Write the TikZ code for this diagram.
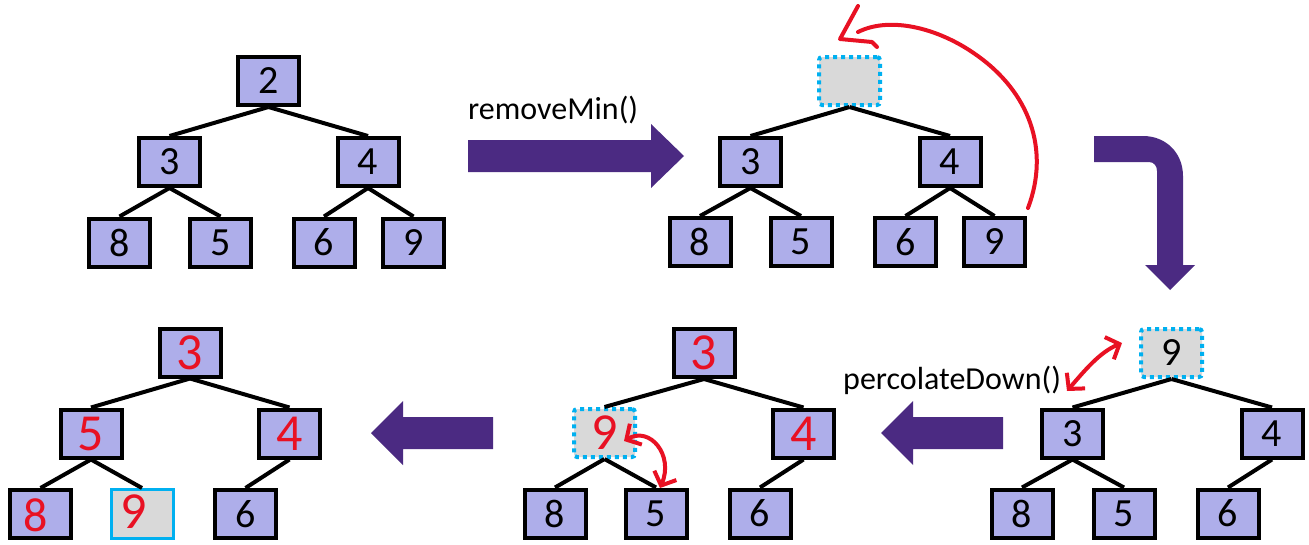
\documentclass[tikz,border=0pt]{standalone}
\usepackage{fontspec}
\setmainfont{Carlito}
\usetikzlibrary{arrows.meta}

\definecolor{heapfill}{RGB}{174,174,234}
\definecolor{arrowpurple}{RGB}{75,42,130}
\definecolor{holegray}{RGB}{217,217,217}
\definecolor{holeblue}{RGB}{0,176,240}
\definecolor{inkred}{RGB}{232,17,35}

\tikzset{
  heapnode/.style={draw=black, line width=4pt, fill=heapfill,
    minimum width=61pt, minimum height=48pt, inner sep=0pt,
    font=\fontsize{40}{44}\selectfont},
  holenode/.style={draw=holeblue, line width=4pt, dash pattern=on 4pt off 4pt,
    fill=holegray, rounded corners=3pt,
    minimum width=61pt, minimum height=48pt, inner sep=0pt,
    font=\fontsize{40}{44}\selectfont},
  movednode/.style={draw=holeblue, line width=3pt, fill=holegray,
    minimum width=62pt, minimum height=49pt, inner sep=0pt},
  inked/.style={text=inkred, font=\fontsize{52}{56}\selectfont},
  link/.style={line width=4pt},
  inkline/.style={draw=inkred, line width=4pt, line cap=round, line join=round},
  barbs/.style={{Straight Barb[length=11pt,width=24pt]}-{Straight Barb[length=11pt,width=24pt]}},
  opname/.style={font=\fontsize{32}{38}\selectfont, inner sep=0pt, anchor=base west},
  bigarrow/.style={fill=arrowpurple}
}

\begin{document}
\begin{tikzpicture}[x=1pt, y=-1pt]
\useasboundingbox (0,0) rectangle (1309,544);

% ---------- heap before removeMin ----------
\node[heapnode] (t1r) at (268.5,81) {2};
\node[heapnode] (t1a) at (169.5,162) {3};
\node[heapnode] (t1b) at (368,162) {4};
\node[heapnode] (t1c) at (119.5,242.5) {8};
\node[heapnode] (t1d) at (220.5,242.5) {5};
\node[heapnode] (t1e) at (324,242.5) {6};
\node[heapnode] (t1f) at (413.5,242.5) {9};
\draw[link] (t1r.south) -- (t1a.north);
\draw[link] (t1r.south) -- (t1b.north);
\draw[link] (t1a.south) -- (t1c.north);
\draw[link] (t1a.south) -- (t1d.north);
\draw[link] (t1b.south) -- (t1e.north);
\draw[link] (t1b.south) -- (t1f.north);

% ---------- removeMin() arrow ----------
\node[opname] (op1) at (468,119) {removeMin()};
\fill[bigarrow] (468,140) -- (651,140) -- (651,124) -- (684,156) -- (651,188) -- (651,172) -- (468,172) -- cycle;

% ---------- heap with empty root ----------
\node[holenode] (t2r) at (849.5,81) {};
\node[heapnode] (t2a) at (750.5,162) {3};
\node[heapnode] (t2b) at (950,162) {4};
\node[heapnode] (t2c) at (700,242) {8};
\node[heapnode] (t2d) at (801,242) {5};
\node[heapnode] (t2e) at (905.5,242) {6};
\node[heapnode] (t2f) at (994.5,242) {9};
\draw[link] (t2r.south) -- (t2a.north);
\draw[link] (t2r.south) -- (t2b.north);
\draw[link] (t2a.south) -- (t2c.north);
\draw[link] (t2a.south) -- (t2d.north);
\draw[link] (t2b.south) -- (t2e.north);
\draw[link] (t2b.south) -- (t2f.north);

% last leaf moved up to the root
\coordinate (lift0) at (1028,208);
\coordinate (lift1) at (858,32);
\draw[inkline] (lift0) .. controls (1050,150) and (1030,92) .. (975,54)
  .. controls (938,28) and (890,16) .. (lift1);
\draw[inkline] (858,6) -- (840,39) -- (872,42) -- (877,47);

% ---------- bent arrow ----------
\fill[bigarrow] (1094,136) -- (1143,136) .. controls (1166,136) and (1183,153) .. (1183,176)
  -- (1183,265) -- (1195,265) -- (1170,290) -- (1145,265) -- (1157,265) -- (1157,171)
  .. controls (1157,166) and (1154,162) .. (1149,162) -- (1094,162) -- cycle;

% ---------- heap with 9 at the root ----------
\node[holenode] (t3r) at (1171.5,353) {9};
\node[heapnode] (t3a) at (1072.5,433.5) {3};
\node[heapnode] (t3b) at (1272,433.5) {4};
\node[heapnode] (t3c) at (1022,513.5) {8};
\node[heapnode] (t3d) at (1124,513.5) {5};
\node[heapnode] (t3e) at (1228,513.5) {6};
\draw[link] (t3r.south) -- (t3a.north);
\draw[link] (t3r.south) -- (t3b.north);
\draw[link] (t3a.south) -- (t3c.north);
\draw[link] (t3a.south) -- (t3d.north);
\draw[link] (t3b.south) -- (t3e.north);

\node[opname] (op2) at (843,389) {percolateDown()};
\coordinate (swap0) at (1067,391);
\coordinate (swap1) at (1122,343);
\draw[inkline, barbs] (swap0) .. controls (1085,370) and (1100,352) .. (swap1);

% ---------- arrow to the left ----------
\fill[bigarrow] (1003,417) -- (913,417) -- (913,401) -- (881,433) -- (913,465) -- (913,449) -- (1003,449) -- cycle;

% ---------- heap after first swap ----------
\node[heapnode, inked] (t4r) at (704,353) {3};
\node[holenode, inked] (t4a) at (604.5,433) {9};
\node[heapnode, inked] (t4b) at (803.5,433.5) {4};
\node[heapnode] (t4c) at (555,513.5) {8};
\node[heapnode] (t4d) at (656,513.5) {5};
\node[heapnode] (t4e) at (760,513.5) {6};
\draw[link] (t4r.south) -- (t4a.north);
\draw[link] (t4r.south) -- (t4b.north);
\draw[link] (t4a.south) -- (t4c.north);
\draw[link] (t4a.south) -- (t4d.north);
\draw[link] (t4b.south) -- (t4e.north);
\coordinate (swap2) at (624,441);
\coordinate (swap3) at (660,488);
\draw[inkline, barbs] (swap2) .. controls (650,426) and (674,455) .. (swap3);

% ---------- arrow to the left ----------
\fill[bigarrow] (493,417) -- (403,417) -- (403,401) -- (371,433) -- (403,465) -- (403,449) -- (493,449) -- cycle;

% ---------- final heap ----------
\node[heapnode, inked] (t5r) at (190,352.5) {3};
\node[heapnode, inked] (t5a) at (91,433.5) {5};
\node[heapnode, inked] (t5b) at (289.5,433.5) {4};
\node[heapnode] (t5c) at (40.5,514) {};
\node[movednode] (t5d) at (142,514) {};
\node[heapnode] (t5e) at (245.5,514) {6};
\draw[link] (t5r.south) -- (t5a.north);
\draw[link] (t5r.south) -- (t5b.north);
\draw[link] (t5a.south) -- (t5c.north);
\draw[link] (t5a.south) -- (t5d.north);
\draw[link] (t5b.south) -- (t5e.north);
\node[inked, inner sep=0pt, font=\fontsize{48}{52}\selectfont] (t5c8) at (36,515) {8};
\node[inked, inner sep=0pt] (t5d9) at (134,512) {9};
\end{tikzpicture}
\end{document}
